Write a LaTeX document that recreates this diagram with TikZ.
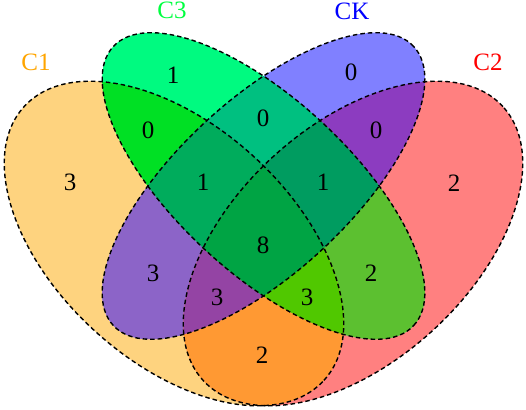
\documentclass[tikz,border=0pt]{standalone}
\usepackage{fontspec}
\setmainfont{Liberation Serif}
\definecolor{cA}{HTML}{FED37F}
\definecolor{cB}{HTML}{FF8080}
\definecolor{cC}{HTML}{00FA80}
\definecolor{cD}{HTML}{8080FF}
\definecolor{cAC}{HTML}{00E024}
\definecolor{cCD}{HTML}{00C080}
\definecolor{cBD}{HTML}{8C3CC0}
\definecolor{cAD}{HTML}{8C64C8}
\definecolor{cBC}{HTML}{5CC030}
\definecolor{cAB}{HTML}{FF9933}
\definecolor{cACD}{HTML}{00AC5C}
\definecolor{cBCD}{HTML}{009C60}
\definecolor{cABD}{HTML}{9444A4}
\definecolor{cABC}{HTML}{50C800}
\definecolor{cABCD}{HTML}{00A444}
\definecolor{tA}{HTML}{FFA500}
\definecolor{tB}{HTML}{FF0000}
\definecolor{tC}{HTML}{00FF40}
\definecolor{tD}{HTML}{0000FF}
\newcommand\ellA[1]{\path[shift={(174,165.5)},rotate=-42.4,#1] (0,0) ellipse [x radius=203, y radius=118];}
\newcommand\ellB[1]{\path[shift={(353,165.5)},rotate=42.4,#1] (0,0) ellipse [x radius=203, y radius=118];}
\newcommand\ellC[1]{\path[shift={(263.5,223)},rotate=-42.9,#1] (0,0) ellipse [x radius=205, y radius=86.5];}
\newcommand\ellD[1]{\path[shift={(263.5,223)},rotate=42.9,#1] (0,0) ellipse [x radius=205, y radius=86.5];}
\tikzset{
  outline/.style={draw=black, line width=1.4pt, dash pattern=on 4.5pt off 3pt},
  num/.style={font=\fontsize{25}{25}\selectfont, text=black, inner sep=0pt},
  setlabel/.style={font=\fontsize{25}{25}\selectfont, inner sep=0pt}
}
\begin{document}
\begin{tikzpicture}[x=1pt,y=1pt]
\useasboundingbox (0,0) rectangle (526,409);
% single sets
\ellA{fill=cA}
\ellB{fill=cB}
\ellC{fill=cC}
\ellD{fill=cD}
% pairs
\begin{scope}\ellA{clip}\ellC{fill=cAC}\end{scope}
\begin{scope}\ellC{clip}\ellD{fill=cCD}\end{scope}
\begin{scope}\ellB{clip}\ellD{fill=cBD}\end{scope}
\begin{scope}\ellA{clip}\ellD{fill=cAD}\end{scope}
\begin{scope}\ellB{clip}\ellC{fill=cBC}\end{scope}
\begin{scope}\ellA{clip}\ellB{fill=cAB}\end{scope}
% triples
\begin{scope}\ellA{clip}\ellC{clip}\ellD{fill=cACD}\end{scope}
\begin{scope}\ellB{clip}\ellC{clip}\ellD{fill=cBCD}\end{scope}
\begin{scope}\ellA{clip}\ellB{clip}\ellD{fill=cABD}\end{scope}
\begin{scope}\ellA{clip}\ellB{clip}\ellC{fill=cABC}\end{scope}
% all four
\begin{scope}\ellA{clip}\ellB{clip}\ellC{clip}\ellD{fill=cABCD}\end{scope}
% outlines
\ellA{outline}
\ellB{outline}
\ellC{outline}
\ellD{outline}
% set labels
\node[setlabel, text=tA] (lA) at (36,347) {C1};
\node[setlabel, text=tC] (lC) at (172,399) {C3};
\node[setlabel, text=tD] (lD) at (352,398) {CK};
\node[setlabel, text=tB] (lB) at (488,347) {C2};
% counts
\node[num] (nA) at (70,227) {3};
\node[num] (nC) at (173,334) {1};
\node[num] (nD) at (351,337) {0};
\node[num] (nB) at (454,226) {2};
\node[num] (nAC) at (148,279) {0};
\node[num] (nCD) at (263,291) {0};
\node[num] (nBD) at (376,279) {0};
\node[num] (nACD) at (203,227) {1};
\node[num] (nBCD) at (323,227) {1};
\node[num] (nABCD) at (263,164) {8};
\node[num] (nAD) at (153,136) {3};
\node[num] (nBC) at (371,136) {2};
\node[num] (nABD) at (217,112) {3};
\node[num] (nABC) at (307,112) {3};
\node[num] (nAB) at (262,54) {2};
\end{tikzpicture}
\end{document}
